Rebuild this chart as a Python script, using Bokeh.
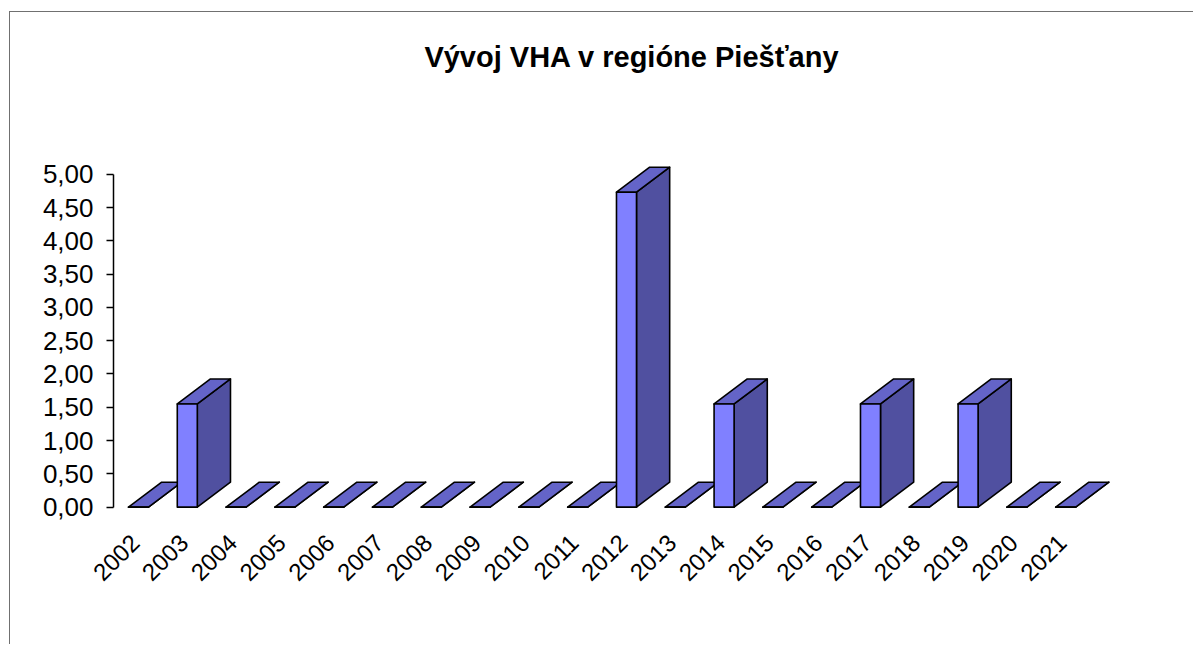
import math
from bokeh.plotting import figure
from bokeh.models import ColumnDataSource, FixedTicker, CustomJSTickFormatter, Range1d, Title
from bokeh.embed import file_html
from bokeh.resources import INLINE

# ---- data ----
years = ["2002", "2003", "2004", "2005", "2006", "2007", "2008", "2009", "2010", "2011",
         "2012", "2013", "2014", "2015", "2016", "2017", "2018", "2019", "2020", "2021"]
values = [0, 1.55, 0, 0, 0, 0, 0, 0, 0, 0,
          4.73, 0, 1.55, 0, 0, 1.55, 0, 1.55, 0, 0]
y_ticks = [0, 0.5, 1.0, 1.5, 2.0, 2.5, 3.0, 3.5, 4.0, 4.5, 5.0]
title_text = "Vývoj VHA v regióne Piešťany"

# ---- 3D style constants (data units) ----
SHIFT = 0.07    # front-face centre relative to category tick
HALF_W = 0.205  # half width of front face
DX = 0.68       # depth offset x
DY = 0.375      # depth offset y

FRONT = "#8080ff"
TOP = "#6464c8"
SIDE = "#5050a0"
FONT = "Liberation Sans"

# build geometry table from the data
idx = list(range(len(years)))
fx0, fx1, ftop, fbot = [], [], [], []
top_xs, top_ys, side_xs, side_ys = [], [], [], []
for i, v in zip(idx, values):
    c = i + SHIFT
    x0, x1 = c - HALF_W, c + HALF_W
    fx0.append(x0); fx1.append(x1); ftop.append(v); fbot.append(0)
    top_xs.append([x0, x1, x1 + DX, x0 + DX])
    top_ys.append([v, v, v + DY, v + DY])
    side_xs.append([x1, x1 + DX, x1 + DX, x1])
    side_ys.append([0, DY, v + DY, v])

front_src = ColumnDataSource(dict(left=fx0, right=fx1, top=ftop, bottom=fbot, year=years))
top_src = ColumnDataSource(dict(xs=top_xs, ys=top_ys, year=years))
side_src = ColumnDataSource(dict(xs=side_xs, ys=side_ys, year=years))

x_start = SHIFT - 0.512
p = figure(width=1184, height=633, title=None,
           x_range=Range1d(x_start, x_start + 21.25), y_range=Range1d(-0.05, 5.356),
           output_backend="svg", toolbar_location=None,
           min_border_left=103, min_border_right=44,
           min_border_top=138, min_border_bottom=135)
p.margin = (11, 0, 0, 9)
p.styles = {"border-style": "solid none none solid",
            "border-width": "1px 0px 0px 1px",
            "border-color": "#707070"}
p.background_fill_color = "white"
p.border_fill_color = "white"
p.outline_line_color = None
p.xgrid.visible = False
p.ygrid.visible = False

# title (a blank spacer keeps the title high above the frame)
spacer = Title(text=" ", text_font_size="1px", standoff=70)
p.add_layout(spacer, "above")
title = Title(text=title_text, align="center", text_font=FONT,
              text_font_size="29px", text_font_style="bold",
              text_color="black", standoff=10)
p.add_layout(title, "above")

# y axis
yax = p.yaxis[0]
yax.ticker = FixedTicker(ticks=y_ticks)
yax.formatter = CustomJSTickFormatter(code="return tick.toFixed(2).replace('.', ',');")
yax.bounds = (0, 5)
yax.axis_line_color = "black"
yax.axis_line_width = 1.5
yax.major_tick_line_color = "black"
yax.major_tick_line_width = 1.5
yax.major_tick_out = 7
yax.major_tick_in = 0
yax.minor_tick_line_color = None
yax.major_label_standoff = 13
yax.major_label_text_font = FONT
yax.major_label_text_font_size = "26px"
yax.major_label_text_color = "black"

# x axis
xax = p.xaxis[0]
xax.ticker = FixedTicker(ticks=idx)
xax.major_label_overrides = {i: y for i, y in zip(idx, years)}
xax.major_label_orientation = math.pi / 4
xax.axis_line_color = None
xax.major_tick_line_color = None
xax.minor_tick_line_color = None
xax.major_tick_out = 0
xax.major_tick_in = 0
xax.major_label_standoff = 28
xax.major_label_text_font = FONT
xax.major_label_text_font_size = "24px"
xax.major_label_text_color = "black"

# 3D bars: sides, tops, fronts
p.patches("xs", "ys", source=side_src, fill_color=SIDE, line_color="black",
          line_width=1.6, line_join="round")
p.patches("xs", "ys", source=top_src, fill_color=TOP, line_color="black",
          line_width=1.6, line_join="round")
p.quad(left="left", right="right", top="top", bottom="bottom", source=front_src,
       fill_color=FRONT, line_color="black", line_width=1.6, line_join="round")

open("out.html", "w").write(file_html(p, INLINE))
